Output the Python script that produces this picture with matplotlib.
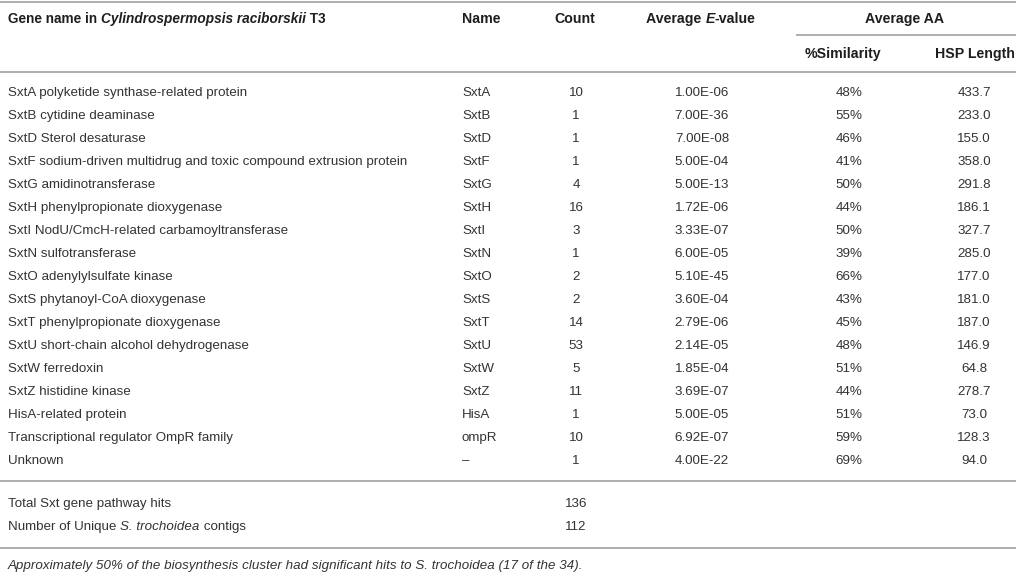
import matplotlib
matplotlib.use("Agg")
import matplotlib.pyplot as plt

plt.rcParams["font.family"] = ["Liberation Sans", "DejaVu Sans"]

# table content
genes = [
    "SxtA polyketide synthase-related protein",
    "SxtB cytidine deaminase",
    "SxtD Sterol desaturase",
    "SxtF sodium-driven multidrug and toxic compound extrusion protein",
    "SxtG amidinotransferase",
    "SxtH phenylpropionate dioxygenase",
    "SxtI NodU/CmcH-related carbamoyltransferase",
    "SxtN sulfotransferase",
    "SxtO adenylylsulfate kinase",
    "SxtS phytanoyl-CoA dioxygenase",
    "SxtT phenylpropionate dioxygenase",
    "SxtU short-chain alcohol dehydrogenase",
    "SxtW ferredoxin",
    "SxtZ histidine kinase",
    "HisA-related protein",
    "Transcriptional regulator OmpR family",
    "Unknown",
]
names = ["SxtA", "SxtB", "SxtD", "SxtF", "SxtG", "SxtH", "SxtI", "SxtN", "SxtO",
         "SxtS", "SxtT", "SxtU", "SxtW", "SxtZ", "HisA", "ompR", "\u2013"]
counts = [10, 1, 1, 1, 4, 16, 3, 1, 2, 2, 14, 53, 5, 11, 1, 10, 1]
evalues = ["1.00E-06", "7.00E-36", "7.00E-08", "5.00E-04", "5.00E-13", "1.72E-06",
           "3.33E-07", "6.00E-05", "5.10E-45", "3.60E-04", "2.79E-06", "2.14E-05",
           "1.85E-04", "3.69E-07", "5.00E-05", "6.92E-07", "4.00E-22"]
similarity = [48, 55, 46, 41, 50, 44, 50, 39, 66, 43, 45, 48, 51, 44, 51, 59, 69]
hsp_length = [433.7, 233.0, 155.0, 358.0, 291.8, 186.1, 327.7, 285.0, 177.0,
              181.0, 187.0, 146.9, 64.8, 278.7, 73.0, 128.3, 94.0]
total_hits = 136
unique_contigs = 112

W, H = 1016, 574
FS = 9.65      # body text
FSB = 10.2     # bold header text
TXT = "#333333"
HDR = "#1e1e1e"
LINE = "#a8a8a8"

fig = plt.figure(figsize=(W / 100, H / 100), dpi=100)
ax = fig.add_axes([0, 0, 1, 1])
ax.set_xlim(0, W)
ax.set_ylim(H, 0)
ax.axis("off")
renderer = fig.canvas.get_renderer()


def runs(x, y, parts, ha="left", weight="normal", color=TXT, size=FS):
    """Draw a line of text made of (string, style) pieces."""
    widths = []
    for s, st in parts:
        t = ax.text(0, 0, s, fontsize=size, fontweight=weight, fontstyle=st)
        widths.append(t.get_window_extent(renderer).width)
        t.remove()
    total = sum(widths)
    if ha == "center":
        x -= total / 2
    for (s, st), w in zip(parts, widths):
        ax.text(x, y, s, fontsize=size, fontweight=weight, fontstyle=st,
                color=color, va="center", ha="left")
        x += w


def cell(x, y, s, ha="center", color=TXT, style="normal"):
    ax.text(x, y, s, fontsize=FS, fontstyle=style, color=color,
            va="center", ha=ha)


def head(x, y, s, ha="center"):
    ax.text(x, y, s, fontsize=FSB, fontweight="bold", color=HDR,
            va="center", ha=ha)


# rules
for yy in (2, 72, 481, 548):
    ax.plot([0, W], [yy, yy], color=LINE, lw=1.3, solid_capstyle="butt")
ax.plot([796, W], [35, 35], color=LINE, lw=1.3, solid_capstyle="butt")

# header
runs(8, 19, [("Gene name in ", "normal"), ("Cylindrospermopsis raciborskii", "italic"),
             (" T3", "normal")], weight="bold", color=HDR, size=9.8)
head(462, 19, "Name", ha="left")
head(575, 19, "Count")
runs(701, 19, [("Average ", "normal"), ("E", "italic"), ("-value", "normal")],
     ha="center", weight="bold", color=HDR, size=FSB)
head(905, 19, "Average AA")
head(843, 54, "%Similarity")
head(975, 54, "HSP Length")

# body
for i in range(len(genes)):
    y = 93 + 23 * i
    cell(8, y, genes[i], ha="left")
    cell(462, y, names[i], ha="left")
    cell(576, y, str(counts[i]))
    cell(702, y, evalues[i])
    cell(849, y, f"{similarity[i]}%")
    cell(974, y, f"{hsp_length[i]:.1f}")

cell(8, 504, "Total Sxt gene pathway hits", ha="left")
cell(576, 504, str(total_hits))
runs(8, 527, [("Number of Unique ", "normal"), ("S. trochoidea", "italic"),
              (" contigs", "normal")])
cell(576, 527, str(unique_contigs))

cell(8, 566, "Approximately 50% of the biosynthesis cluster had significant hits to "
     "S. trochoidea (17 of the 34).", ha="left", style="italic")

fig.savefig("out.png", dpi=100)
